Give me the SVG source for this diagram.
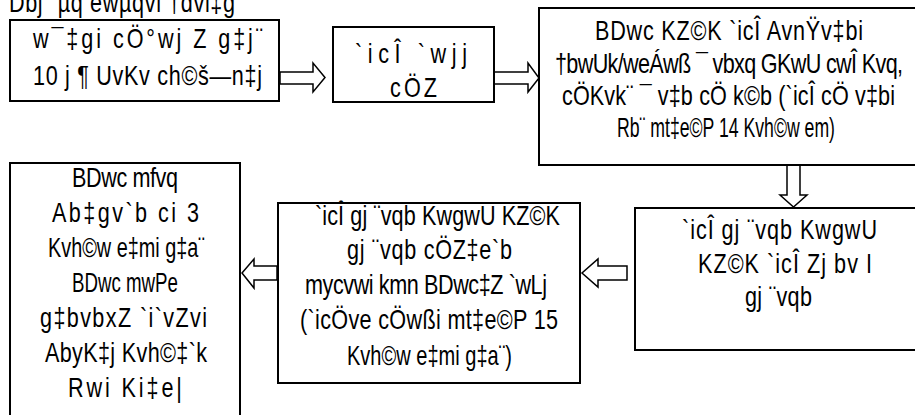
<svg xmlns="http://www.w3.org/2000/svg" width="915" height="415" viewBox="0 0 915 415">
<style>
.box{fill:#fff;stroke:#000;stroke-width:2}
.arr{fill:#fff;stroke:#000;stroke-width:1.5;stroke-linejoin:miter}
text{font-family:"Liberation Sans",Arial,sans-serif;font-size:27px;fill:#000}
</style>
<rect width="915" height="415" fill="#fff"/>
<text transform="scale(0.8 1)" x="11.25" y="12" textLength="282.5" lengthAdjust="spacing">Dbj¨ µq ewµqvi †dvi‡g</text>
<g id="connectors">
<polygon class="arr" points="280,72 313,72 313,63 325,77.5 313,92 313,84 280,84"/>
<polygon class="arr" points="494,72 528,72 528,63 539,78 528,92 528,84 494,84"/>
<polygon class="arr" points="787,165 787,195 780,195 793.5,207 807,195 800,195 800,165"/>
<polygon class="arr" points="627,266 598,266 598,259 582,273 598,287 598,280 627,280"/>
<polygon class="arr" points="277,266 254,266 254,259 242,273 254,288 254,280 277,280"/>
</g>
<g id="node1">
<rect class="box" x="10" y="20" width="269" height="81"/>
<text transform="scale(0.8 1)" x="41.25" y="48" textLength="287.5" lengthAdjust="spacing">w¯‡gi cÖ°wj Z g‡j¨</text>
<text transform="scale(0.8 1)" x="41.25" y="85" textLength="286.25" lengthAdjust="spacing">10 j ¶ UvKv ch©š—n‡j</text>
</g>
<g id="node2">
<rect class="box" x="333" y="27" width="161" height="75"/>
<text transform="scale(0.8 1)" x="443.75" y="63" textLength="140" lengthAdjust="spacing">`icÎ `wjj</text>
<text transform="scale(0.8 1)" x="487.5" y="97" textLength="58.75" lengthAdjust="spacing">cÖZ</text>
</g>
<g id="node3">
<rect class="box" x="539" y="8" width="381" height="157"/>
<text transform="scale(0.8 1)" x="743.75" y="40" textLength="335" lengthAdjust="spacing">BDwc KZ©K `icÎ AvnŸv‡bi</text>
<text transform="scale(0.8 1)" x="693.75" y="73" textLength="435" lengthAdjust="spacing">†bwUk/weÁwß ¯ vbxq GKwU cwÎ Kvq,</text>
<text transform="scale(0.8 1)" x="702.5" y="105" textLength="416.25" lengthAdjust="spacing">cÖKvk¨ ¯ v‡b cÖ k©b (`icÎ cÖ v‡bi</text>
<text transform="scale(0.8 1)" x="771.25" y="137" textLength="272.5" lengthAdjust="spacingAndGlyphs">Rb¨ mt‡e©P 14 Kvh©w em)</text>
</g>
<g id="node4">
<rect class="box" x="635" y="208" width="285" height="142"/>
<text transform="scale(0.8 1)" x="852.5" y="239" textLength="243.75" lengthAdjust="spacing">`icÎ gj ¨vqb KwgwU</text>
<text transform="scale(0.8 1)" x="872.5" y="273" textLength="217.5" lengthAdjust="spacing">KZ©K `icÎ Zj bv I</text>
<text transform="scale(0.8 1)" x="931.25" y="306" textLength="83.75" lengthAdjust="spacing">gj ¨vqb</text>
</g>
<g id="node5">
<rect class="box" x="278" y="203" width="302" height="180"/>
<text transform="scale(0.8 1)" x="393.75" y="225" textLength="306.25" lengthAdjust="spacing">`icÎ gj ¨vqb KwgwU KZ©K</text>
<text transform="scale(0.8 1)" x="433.75" y="259" textLength="206.25" lengthAdjust="spacing">gj ¨vqb cÖZ‡e`b</text>
<text transform="scale(0.8 1)" x="381.25" y="294" textLength="302.5" lengthAdjust="spacing">mycvwi kmn BDwc‡Z `wLj</text>
<text transform="scale(0.8 1)" x="375" y="329" textLength="322.5" lengthAdjust="spacing">(`icÖve cÖwßi mt‡e©P 15</text>
<text transform="scale(0.8 1)" x="433.75" y="365" textLength="206.25" lengthAdjust="spacingAndGlyphs">Kvh©w e‡mi g‡a¨)</text>
</g>
<g id="node6">
<rect class="box" x="10" y="163" width="230" height="260"/>
<text transform="scale(0.8 1)" x="90" y="187" textLength="132.5" lengthAdjust="spacing">BDwc mfvq</text>
<text transform="scale(0.8 1)" x="65" y="222" textLength="183.75" lengthAdjust="spacing">Ab‡gv`b ci 3</text>
<text transform="scale(0.8 1)" x="60" y="257" textLength="196.25" lengthAdjust="spacingAndGlyphs">Kvh©w e‡mi g‡a¨</text>
<text transform="scale(0.8 1)" x="90" y="292" textLength="132.5" lengthAdjust="spacingAndGlyphs">BDwc mwPe</text>
<text transform="scale(0.8 1)" x="50" y="327" textLength="208.75" lengthAdjust="spacing">g‡bvbxZ `i`vZvi</text>
<text transform="scale(0.8 1)" x="56.25" y="362" textLength="202.5" lengthAdjust="spacing">AbyK‡j Kvh©‡`k</text>
<text transform="scale(0.8 1)" x="85" y="397" textLength="142.5" lengthAdjust="spacing">Rwi Ki‡e|</text>
</g>
</svg>
